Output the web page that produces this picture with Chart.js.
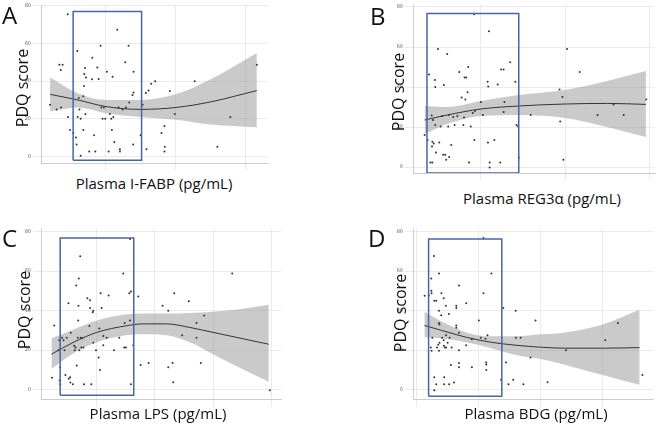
<!DOCTYPE html>
<html>
<head>
<meta charset="utf-8">
<script src="https://cdn.jsdelivr.net/npm/chart.js@4"></script>
<style>
  body { margin: 0; background: #fff; font-family: "Open Sans", "Noto Sans", sans-serif; }
  #fig { position: relative; width: 660px; height: 427px; overflow: hidden; }
  .cv { position: absolute; }
  .lbl { position: absolute; font-size: 24px; color: #111; line-height: 1; }
  .xt { position: absolute; font-size: 15px; color: #111; white-space: nowrap; transform: translateX(-50%); }
  .yt { position: absolute; font-size: 16px; color: #111; white-space: nowrap; transform: translate(-50%, -50%) rotate(-90deg); }
</style>
</head>
<body>
<div id="fig">
  <div class="cv" style="left:0;top:0;width:275px;height:170px"><canvas id="cA"></canvas></div>
  <div class="cv" style="left:370px;top:0;width:290px;height:180px"><canvas id="cB"></canvas></div>
  <div class="cv" style="left:0;top:224px;width:290px;height:183px"><canvas id="cC"></canvas></div>
  <div class="cv" style="left:370px;top:224px;width:290px;height:183px"><canvas id="cD"></canvas></div>

  <div class="lbl" style="left:2px;top:3px">A</div>
  <div class="lbl" style="left:370px;top:4px">B</div>
  <div class="lbl" style="left:2px;top:226px">C</div>
  <div class="lbl" style="left:368px;top:226px">D</div>

  <div class="yt" style="left:22px;top:88px">PDQ score</div>
  <div class="yt" style="left:398px;top:92px">PDQ score</div>
  <div class="yt" style="left:24px;top:310px">PDQ score</div>
  <div class="yt" style="left:400px;top:313px">PDQ score</div>

  <div class="xt" style="left:154px;top:173px">Plasma I-FABP (pg/mL)</div>
  <div class="xt" style="left:542px;top:188px">Plasma REG3α (pg/mL)</div>
  <div class="xt" style="left:158px;top:403px">Plasma LPS (pg/mL)</div>
  <div class="xt" style="left:536px;top:403px">Plasma BDG (pg/mL)</div>
</div>
<script>
const yTicks = [0, 20, 40, 60, 80];

// Panel A: I-FABP
const aX = [200,295,333,380,352,357,452,457,486,533,570,580,590,610,595,620,638,638,676,676,685,690,700,714,705,760,800,805,830,848,876,895,924,933,952,990,970,1014,1038,1057,1076,1085,1095,1105,1119,1162,1180,1200,1200,1238,1276,1286,1324,1333,1380,1395,1390,1395,1495,1524,1571,1580,1610,1648,1705,1795,1838,1843,1838,1914,1986,2270,2595,2780,3160];
const aY = [27.5,25,48.7,48.7,46,26,75.6,21,14,12.5,10,6.4,56,31,21,25,20,0.3,14,32,37.4,43.8,47,42,22.6,2.6,41,52.5,11.3,2.6,47.3,41.2,58.8,26,20,20,26,45,2.6,22.6,20,14,42.3,21,7.7,67.3,26,2.6,3.8,25,50,26,58.8,28.7,32.7,34,6.4,45,11.3,27.5,33.7,3.8,35,38.6,40,12.5,16.2,5.2,2.6,34.8,22.6,40,5.2,21,48.7];
const aFitX = [200,600,1000,1500,2000,2500,3160];
const aFit = [33,30,26.5,25,26,29,35];
const aUpper = [42,33.5,30,30,33,41,55];
const aLower = [24,26,23,21,19.5,17,15.5];
const aBox = [530, 1510, -2, 77];
const aXTicks = [1000, 2000, 3000];

// Panel B: REG3α
const bX = [1660,1840,1920,2000,2080,2100,2120,2120,2160,2200,2270,2290,2330,2290,2450,2530,2610,2700,2800,2760,2880,2940,3000,3060,3100,3120,3240,3360,3440,3600,3720,3860,3960,4000,4030,4080,4130,4210,4250,4300,4400,4520,4610,4650,4600,5000,5120,5400,5420,5440,5520,5480,5520,5800,6000,6150,6200,6350,6400,6350,6740,7050,7120,7210,7250,7960,9670,9710,9840,9900,10120,10870,11930,12880,13480,14820];
const bY = [16,13.5,46.3,2.3,25.8,10.2,2.3,12.6,23.5,11.7,43.5,40,7.3,21,59,12.2,20.2,25.5,41,6.1,6.1,3.6,56.5,20.2,26,5,11,25,21,25.5,47.5,34.7,21,24.8,44.8,33.7,44.8,37.4,50,2.3,20.2,27,13.5,28,76.4,32.5,26,42.6,12.2,40.3,-0.2,67.9,2.3,13.5,41.3,2.3,48.7,48.7,32.5,27.5,52.4,42.6,21,20.2,4.8,26,38.7,22.8,35,3.6,59,47.5,26,31.2,26,33.7];
const bFitX = [1660,3000,5000,7250,10000,12500,14800];
const bFit = [23.5,26,29,30.5,31.5,31.8,31.3];
const bUpper = [30.5,30,33,36,38.5,43,48];
const bLower = [16.5,21.5,25.5,26,24.5,20,15];
const bBox = [1800, 7250, -3, 76.7];
const bXTicks = [5000, 10000, 15000];

// Panel C: LPS
const cX = [11.4,13.4,17.1,17.7,18,18.5,18.5,20.2,21.4,22.2,23,24.2,25.6,25.9,27,27.3,27.6,29.4,30.5,31,31.7,32.3,32.8,33.7,34,34.2,34.5,35,35.7,36.2,36.8,37.4,38.5,39,41.9,43.6,44.2,44.2,45.3,46.5,47,47,49.3,51.6,52.2,52.7,53.3,54.2,55.6,55.6,58.5,60.2,64.8,69.4,72.8,73.6,75.1,74,78,78.6,78.6,79.4,79.4,81.4,85.7,87.7,94.6,106.6,111.5,111.5,115.2,115.8,116.6,123.5,129.2,135.8,135.8,139.5,142.4,166.5,198.9];
const cY = [6,32.5,20,25,4.7,11.3,2.7,26.3,25,20,7.5,26.3,43.8,5.5,6.3,3.7,28.8,2.7,22.2,20,21.3,52.7,12.2,26.3,35,42.5,56.3,20,67.5,26.3,21.3,26,21.3,2.7,46.3,32.2,45.3,41.3,2.7,39.2,40,23.8,20,16.3,31,10,48.8,41.3,22.5,27.2,26.3,47.7,20,26.3,58.8,21.3,21.3,33.8,48.8,35,76.3,49.7,2.7,22.5,47.2,12.5,13.5,42.5,40,11.3,13.5,3.8,48.8,27.5,44.7,33.8,26.3,13.5,37.5,58.8,-0.3];
const cFitX = [11,30,50,75,90,110,130,150,170,198];
const cFit = [18,24,29,32.3,33.3,33.3,31.5,29,26.5,23];
const cUpper = [26,30.5,35,38,38.5,38.5,38.8,39.5,40.5,43];
const cLower = [10.5,18.5,24,27.5,28,27.5,24,18,12,4];
const cBox = [18.5, 81.8, -2.8, 76.7];
const cXTicks = [50, 100, 150, 200];

// Panel D: BDG
const dX = [3.1,4.8,5.6,5.8,5.8,5.9,5.9,6.2,6.9,7,7,7,7.8,7.8,8.1,8.6,8.9,8.9,8.9,9.1,8.9,9.1,9.8,9.9,10.2,10.8,10.8,10.9,11,11,11.3,11.7,11.8,11.8,12.4,12.9,13,13.2,13.7,14,15,15.9,15.9,15.9,15.9,17,17,17,17,17,19.9,19.9,22.2,22.2,25,25.8,26.9,26.9,27.7,28,28,28,28.5,30.1,34,34.9,36,37,38.9,39.9,40,41.9,43,45.9,47.9,52.8,60.2,76.1,81.2,91.1];
const dY = [47.5,47.7,21.3,56.3,50,48.8,19.7,26.3,67.7,45,6.3,-0.3,45,2.7,21.3,22.7,58.8,40,33.8,33,19.7,23.8,37.7,48.8,26.3,46.3,25,22.2,6.3,2.7,21.3,42.5,27.5,21.3,23.8,38.3,2.7,26.3,12.5,21.3,3.7,42.5,41.3,32.5,31.3,52.7,28.8,20,13.5,11.3,43.8,22.5,11.3,25.5,35,26.3,48.8,76.7,25.8,13.8,12.7,10,27.5,58.8,5,41.3,13.8,2.7,5,40,26.3,26.3,2.7,16.3,35,3.8,20,25,33.8,7.5];
const dFitX = [3,10,20,30,40,50,60,75,90];
const dFit = [32.5,30,26.5,24,22.5,21.5,21,21,21.3];
const dUpper = [39.5,34.5,29,27,27,28,29,33,40.5];
const dLower = [26.5,26,24,21,17.5,15.5,12.5,7.5,2.5];
const dBox = [4.7, 34.3, -3.3, 76.3];
const dXTicks = [0, 25, 50, 75];

function pts(xs, ys) { return xs.map((x, i) => ({ x: x, y: ys[i] })); }
function boxPts(b) {
  return [{x:b[0],y:b[2]},{x:b[1],y:b[2]},{x:b[1],y:b[3]},{x:b[0],y:b[3]},{x:b[0],y:b[2]}];
}

function makePanel(id, o) {
  const ctx = document.getElementById(id).getContext('2d');
  const grid = { color: '#e6e6e6', lineWidth: 0.8 };
  const tickFont = { size: 5, family: 'DejaVu Sans' };
  return new Chart(ctx, {
    type: 'scatter',
    data: {
      datasets: [
        { type: 'line', data: boxPts(o.box), borderColor: '#4667a6', borderWidth: 1.5,
          pointRadius: 0, tension: 0, fill: false, order: 0 },
        { data: pts(o.x, o.y), pointRadius: 1, pointBackgroundColor: '#333',
          pointBorderWidth: 0, order: 1 },
        { type: 'line', data: pts(o.fitX, o.fit), borderColor: '#333', borderWidth: 1,
          pointRadius: 0, cubicInterpolationMode: 'monotone', fill: false, order: 2 },
        { type: 'line', data: pts(o.fitX, o.lower), borderColor: 'rgba(0,0,0,0)',
          pointRadius: 0, cubicInterpolationMode: 'monotone', fill: false, order: 3 },
        { type: 'line', data: pts(o.fitX, o.upper), borderColor: 'rgba(0,0,0,0)',
          backgroundColor: 'rgba(150,150,150,0.5)', pointRadius: 0,
          cubicInterpolationMode: 'monotone', fill: '-1', order: 4 }
      ]
    },
    options: {
      responsive: true,
      maintainAspectRatio: false,
      animation: false,
      layout: { padding: { top: 3, right: o.padRight, left: 0, bottom: 0 } },
      plugins: { legend: { display: false }, tooltip: { enabled: false } },
      scales: {
        x: {
          type: 'linear', min: o.xMin, max: o.xMax,
          grid: grid, border: { color: '#ccc' },
          ticks: { font: tickFont, color: '#666', padding: 1, maxRotation: 0 },
          afterBuildTicks: s => { s.ticks = o.xTicks.map(v => ({ value: v })); },
          afterFit: s => { s.height = o.xH; }
        },
        y: {
          min: o.yMin, max: o.yMax,
          grid: grid, border: { color: '#ccc' },
          ticks: { font: tickFont, color: '#666', padding: 2 },
          afterBuildTicks: s => { s.ticks = yTicks.map(v => ({ value: v })); },
          afterFit: s => { s.width = o.yW; }
        }
      }
    }
  });
}

makePanel('cA', { x: aX, y: aY, fitX: aFitX, fit: aFit, upper: aUpper, lower: aLower, box: aBox,
  xTicks: aXTicks, xMin: 70, xMax: 3320, yMin: -3.5, yMax: 80.5, yW: 41, xH: 7, padRight: 7 });
makePanel('cB', { x: bX, y: bY, fitX: bFitX, fit: bFit, upper: bUpper, lower: bLower, box: bBox,
  xTicks: bXTicks, xMin: 970, xMax: 15340, yMin: -3, yMax: 81, yW: 43, xH: 7, padRight: 5 });
makePanel('cC', { x: cX, y: cY, fitX: cFitX, fit: cFit, upper: cUpper, lower: cLower, box: cBox,
  xTicks: cXTicks, xMin: 2, xMax: 208.5, yMin: -4.7, yMax: 81.3, yW: 41, xH: 8, padRight: 9 });
makePanel('cD', { x: dX, y: dY, fitX: dFitX, fit: dFit, upper: dUpper, lower: dLower, box: dBox,
  xTicks: dXTicks, xMin: -1.6, xMax: 95.4, yMin: -4.7, yMax: 81.3, yW: 43, xH: 8, padRight: 7 });
</script>
</body>
</html>
